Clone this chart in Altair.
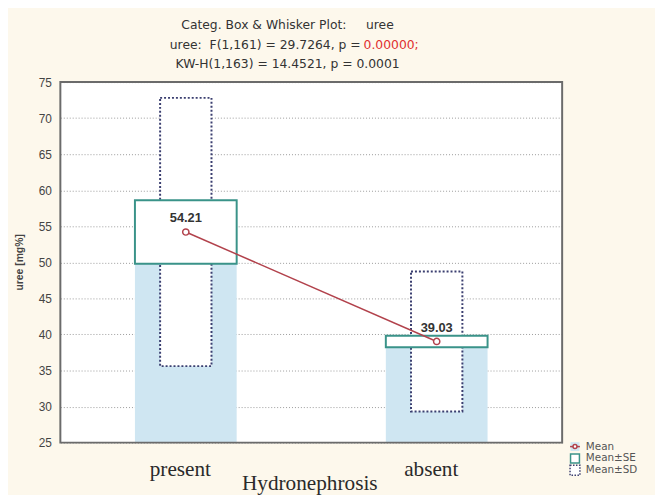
import altair as alt
import pandas as pd

# ---- data ----
groups = ["present", "absent"]
means = [54.21, 39.03]
se = [4.4, 0.8]
sd = [18.6, 9.7]
y_ticks = [25, 30, 35, 40, 45, 50, 55, 60, 65, 70, 75]
legend_labels = ["Mean", "Mean\u00b1SE", "Mean\u00b1SD"]
title_line1 = "Categ. Box & Whisker Plot:\u00a0\u00a0\u00a0\u00a0\u00a0uree"
title_line2_black = "uree:\u00a0\u00a0F(1,161) = 29.7264, p ="
title_line2_red = "0.00000;"
title_line3 = "KW-H(1,163) = 14.4521, p = 0.0001"

W, H = 508, 365

df = pd.DataFrame({"group": groups, "mean": means, "se": se, "sd": sd})
df["se_lo"] = df["mean"] - df["se"]
df["se_hi"] = df["mean"] + df["se"]
df["sd_lo"] = df["mean"] - df["sd"]
df["sd_hi"] = df["mean"] + df["sd"]

x_axis = alt.Axis(
    labelAngle=0, labelFont="Liberation Serif", labelFontSize=21.5,
    labelColor="#2a2a2a", labelPadding=16, labelOffset=-6, domain=False,
    ticks=False, grid=False, title="Hydronephrosis",
    titleFont="Liberation Serif", titleFontSize=21.5,
    titleFontWeight="normal", titleColor="#2a2a2a",
    titleX=252, titleY=47, titleBaseline="alphabetic",
)
xs = alt.X(
    "group:N", sort=groups,
    scale=alt.Scale(type="point", padding=0.5), axis=x_axis,
)
ys_scale = alt.Scale(domain=[25, 75], nice=False, zero=False)
y_axis = alt.Axis(
    values=y_ticks, tickCount=11, labelOverlap=False, grid=True,
    gridDash=[1, 2], gridColor="#9a9a9a", gridWidth=1, domain=False,
    ticks=False, labelFont="Liberation Sans", labelFontSize=12,
    labelColor="#444444", labelPadding=9,
    title="uree [mg%]", titleFont="Liberation Sans", titleFontSize=10.5,
    titleFontWeight="bold", titleColor="#444444", titleX=-41, titleY=182,
    titleAngle=-90, titleAlign="center", titleBaseline="middle",
)

def Y(field):
    return alt.Y(field, scale=ys_scale, axis=y_axis)

base = alt.Chart(df)

fill_bar = base.mark_bar(size=103, color="#cfe6f2").encode(
    x=xs, y=Y("se_lo:Q"), y2=alt.datum(25),
)
sd_box = base.mark_bar(
    size=52, fill="white", stroke="#3b3f70", strokeWidth=2, strokeDash=[2, 2]
).encode(x=xs, y=Y("sd_lo:Q"), y2="sd_hi:Q")
se_box = base.mark_bar(
    size=103, fill="white", stroke="#3a9389", strokeWidth=2
).encode(x=xs, y=Y("se_lo:Q"), y2="se_hi:Q")
mean_line = base.mark_line(color="#b2424c", strokeWidth=1.5).encode(
    x=xs, y=Y("mean:Q")
)
mean_pts = base.mark_point(
    shape="circle", filled=True, fill="white", stroke="#b2424c",
    strokeWidth=1.5, size=40, opacity=1
).encode(x=xs, y=Y("mean:Q"))
mean_txt = base.mark_text(
    dy=-14, fontSize=13, fontWeight="bold", color="#333333",
    font="Liberation Sans"
).encode(x=xs, y=Y("mean:Q"), text=alt.Text("mean:Q", format=".2f"))

one = pd.DataFrame({"k": [0]})
frame = alt.Chart(one).mark_rect(
    fill="transparent", stroke="#6b6b6b", strokeWidth=2
).encode(x=alt.value(0), x2=alt.value(W), y=alt.value(0), y2=alt.value(H))

def txt(s, x, y, color="#333333", align="center", size=12.5, font="DejaVu Sans"):
    return alt.Chart(one).mark_text(
        text=s, font=font, fontSize=size, color=color,
        align=align, baseline="middle"
    ).encode(x=alt.value(x), y=alt.value(y))

t1 = txt(title_line1, 230, -58)
t2a = txt(title_line2_black, 304, -38, align="right")
t2b = txt(title_line2_red, 307, -38, color="#e03030", align="left")
t3 = txt(title_line3, 230, -18)

# legend
lx, ly0, dy = 521, 369, 12
leg_bg = alt.Chart(one).mark_square(size=81, color="#cfe6f2", opacity=1).encode(
    x=alt.value(lx), y=alt.value(ly0))
leg_line = alt.Chart(one).mark_rule(color="#b2424c", strokeWidth=1.5).encode(
    x=alt.value(lx - 5), x2=alt.value(lx + 5), y=alt.value(ly0))
leg_pt = alt.Chart(one).mark_point(shape="circle", filled=True, fill="white",
    stroke="#b2424c", strokeWidth=1.5, size=16, opacity=1).encode(
    x=alt.value(lx), y=alt.value(ly0))
leg_se = alt.Chart(one).mark_square(size=81, fill="white", stroke="#3a9389",
    strokeWidth=1.5, opacity=1).encode(x=alt.value(lx), y=alt.value(ly0 + dy))
leg_sd = alt.Chart(one).mark_square(size=100, fill="white", stroke="#3b3f70",
    strokeWidth=1.5, strokeDash=[1.5, 1.5], opacity=1).encode(
    x=alt.value(lx), y=alt.value(ly0 + 2 * dy))
leg_txts = [
    txt(lab, lx + 11, ly0 + i * dy, color="#555555", align="left", size=10.5)
    for i, lab in enumerate(legend_labels)
]

chart = alt.layer(
    fill_bar, sd_box, se_box, mean_line, mean_pts, mean_txt, frame,
    t1, t2a, t2b, t3, leg_bg, leg_line, leg_pt, leg_se, leg_sd, *leg_txts
).properties(
    width=W, height=H,
    autosize=alt.AutoSizeParams(type="none"),
    padding={"left": 53, "top": 72, "right": 94, "bottom": 50},
    background="#fdf8ec",
).configure_view(fill="white", stroke=None)

chart.save("out.html", embed_options={"renderer": "svg", "actions": False})
